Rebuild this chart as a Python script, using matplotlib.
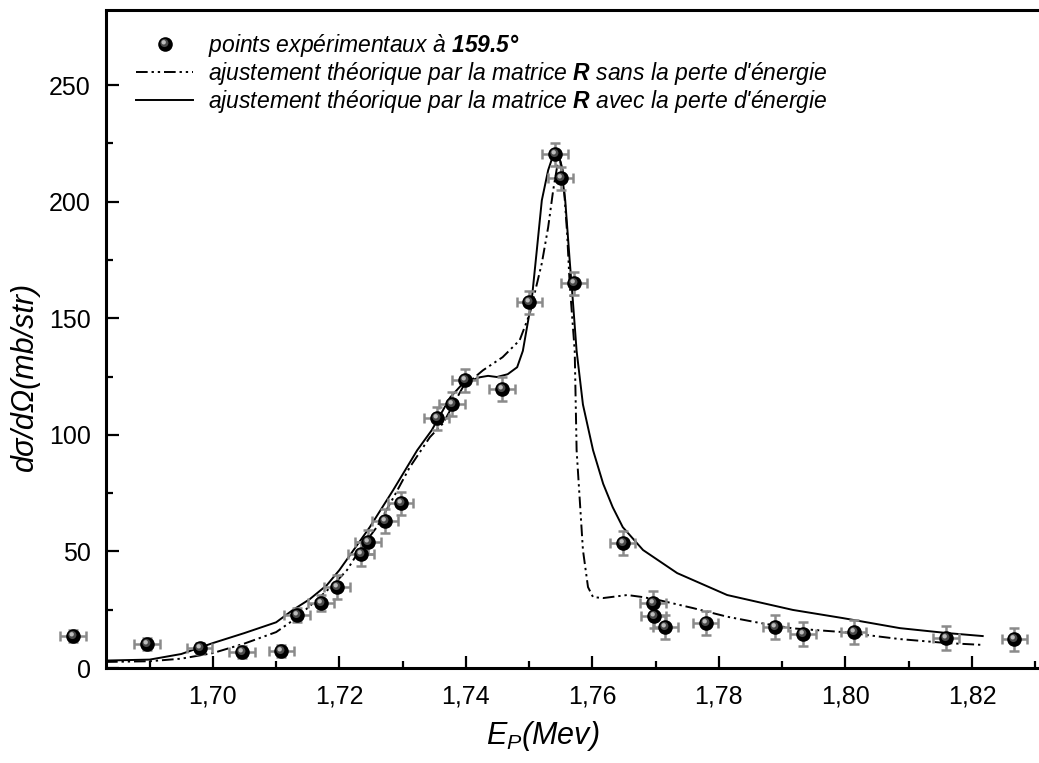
import numpy as np
import matplotlib
matplotlib.use("Agg")
import matplotlib.pyplot as plt
from matplotlib.path import Path
from matplotlib.lines import Line2D
from matplotlib.ticker import MultipleLocator, FixedLocator, FuncFormatter
from matplotlib.legend_handler import HandlerTuple

plt.rcParams['font.family'] = ['Liberation Sans', 'DejaVu Sans']
plt.rcParams['mathtext.fontset'] = 'custom'
plt.rcParams['mathtext.rm'] = 'Liberation Sans:italic'
plt.rcParams['mathtext.it'] = 'Liberation Sans:italic'
plt.rcParams['mathtext.bf'] = 'Liberation Sans:bold:italic'

# ---------------- data ----------------
x_exp = [1.6779, 1.6896, 1.6979, 1.7046, 1.7108, 1.7133, 1.7171, 1.7196, 1.7234,
         1.7245, 1.7272, 1.7297, 1.7354, 1.7378, 1.7398, 1.7457, 1.7500, 1.7541,
         1.7550, 1.7571, 1.7648, 1.7696, 1.7697, 1.7715, 1.7779, 1.7889, 1.7933,
         1.8013, 1.8159, 1.8267]
y_exp = [13.7, 10.3, 8.4, 6.9, 7.3, 22.7, 27.9, 34.7, 48.9,
         54.0, 63.0, 70.7, 107.1, 113.2, 123.4, 119.6, 156.9, 220.3,
         210.0, 165.0, 53.6, 27.9, 22.3, 17.6, 19.3, 17.6, 14.6,
         15.4, 12.8, 12.3]
x_err = [0.002] * len(x_exp)
y_err = [2.5, 2.5, 2.5, 2.5, 2.5, 3.0, 3.5, 5.0, 5.0,
         5.0, 5.0, 5.0, 5.0, 5.0, 5.0, 5.0, 5.0, 5.0,
         5.0, 5.0, 5.0, 5.0, 5.0, 5.0, 5.0, 5.0, 5.0,
         5.0, 5.0, 5.0]

# R-matrix fit with energy loss (solid)
x_avec = [1.6831, 1.6900, 1.6950, 1.7000, 1.7050, 1.7100, 1.7127, 1.7153, 1.7180,
          1.7200, 1.7248, 1.7285, 1.7323, 1.7346, 1.7375, 1.7395, 1.7422, 1.7435,
          1.7449, 1.7466, 1.7481, 1.7490, 1.7504, 1.7512, 1.7520, 1.7530, 1.7538,
          1.7542, 1.7549, 1.7557, 1.7564, 1.7569, 1.7575, 1.7585, 1.7601, 1.7617,
          1.7632, 1.7648, 1.7680, 1.7734, 1.7813, 1.7917, 1.7996, 1.8086, 1.8160,
          1.8217]
y_avec = [3.2, 3.6, 6.0, 10.7, 15.0, 19.6, 25.0, 29.5, 35.5,
          42.0, 60.4, 76.3, 93.4, 102.0, 116.0, 122.0, 124.7, 125.3,
          124.8, 126.0, 129.0, 136.0, 157.7, 179.0, 200.6, 213.5, 220.0,
          221.0, 217.7, 200.6, 175.0, 157.7, 136.0, 113.0, 93.4, 79.0,
          69.0, 60.4, 50.6, 40.7, 31.3, 24.9, 21.4, 17.1, 15.0,
          13.7]

# R-matrix fit without energy loss (dash-dot-dot)
x_sans = [1.6831, 1.6900, 1.6950, 1.7000, 1.7050, 1.7100, 1.7127, 1.7153, 1.7190,
          1.7212, 1.7232, 1.7259, 1.7285, 1.7311, 1.7343, 1.7364, 1.7395, 1.7427,
          1.7458, 1.7485, 1.7501, 1.7520, 1.7530, 1.7538, 1.7544, 1.7547, 1.7553,
          1.7560, 1.7564, 1.7572, 1.7575, 1.7580, 1.7585, 1.7593, 1.7601, 1.7617,
          1.7655, 1.7680, 1.7707, 1.7759, 1.7813, 1.7865, 1.7917, 1.7996, 1.8086,
          1.8160, 1.8217]
y_sans = [2.6, 2.9, 4.0, 6.4, 10.5, 15.4, 20.5, 26.5, 35.6,
          42.0, 50.6, 60.4, 72.9, 86.0, 99.0, 105.0, 120.4, 127.7,
          133.3, 140.6, 152.0, 173.6, 189.0, 205.0, 214.7, 220.0, 213.5,
          186.4, 165.0, 136.0, 93.4, 72.0, 50.6, 34.7, 30.4, 30.0,
          31.3, 30.4, 29.0, 25.7, 22.0, 19.3, 17.0, 15.4, 12.4,
          10.7, 9.9]

x_ticks = [1.70, 1.72, 1.74, 1.76, 1.78, 1.80, 1.82]
y_ticks = [0, 50, 100, 150, 200, 250]
y_minor = [25, 75, 125, 175, 225]

label_pts = r"points expérimentaux à $\mathbf{159.5°}$"
label_sans = r"ajustement théorique par la matrice $\mathbf{R}$ sans la perte d'énergie"
label_avec = r"ajustement théorique par la matrice $\mathbf{R}$ avec la perte d'énergie"

# ---------------- figure ----------------
fig = plt.figure(figsize=(10.39, 7.63), dpi=100)
ax = fig.add_axes([106 / 1039, 1 - 668 / 763, (1039 - 106) / 1039, (668 - 10.5) / 763])
ax.set_xlim(1.6831, 1.8306)
ax.set_ylim(0, 282)

lw = 1.4
dashdotdot = (0, (6, 2, 1.2, 2, 1.2, 2))
ax.plot(x_sans, y_sans, color='black', lw=lw, linestyle=dashdotdot, zorder=3)
ax.plot(x_avec, y_avec, color='black', lw=lw, linestyle='-', zorder=3)

eb = ax.errorbar(x_exp, y_exp, xerr=x_err, yerr=y_err, fmt='none', ecolor='#8a8a8a',
                 elinewidth=1.8, capsize=3.5, capthick=1.8, zorder=4)
for art in list(eb.lines[1]) + list(eb.lines[2]):
    art.set_clip_on(False)


def offset_circle(cx, cy, r):
    c = Path.unit_circle()
    verts = np.vstack([[[1.0, 0.0]], c.vertices * r + np.array([cx, cy])])
    codes = np.concatenate([[Path.MOVETO], c.codes])
    return Path(verts, codes)


ms = 10.5
h0, = ax.plot(x_exp, y_exp, 'o', color='black', ms=ms, mec='black', mew=0, zorder=5, clip_on=False)
h1, = ax.plot(x_exp, y_exp, linestyle='none', marker=offset_circle(-0.15, 0.2, 0.55),
              color='#4a4a4a', ms=ms, mew=0, zorder=6, clip_on=False)
h2, = ax.plot(x_exp, y_exp, linestyle='none', marker=offset_circle(-0.25, 0.3, 0.3),
              color='#bdbdbd', ms=ms, mew=0, zorder=7, clip_on=False)

l_sans = Line2D([], [], color='black', lw=lw, linestyle=dashdotdot)
l_avec = Line2D([], [], color='black', lw=lw, linestyle='-')

leg = ax.legend([(h0, h1, h2), l_sans, l_avec], [label_pts, label_sans, label_avec],
                handler_map={tuple: HandlerTuple(ndivide=1)},
                loc='upper left', bbox_to_anchor=(136 / 1039, 1 - 32 / 763),
                bbox_transform=fig.transFigure, frameon=False, numpoints=1,
                prop={'size': 16.5, 'style': 'italic'}, handlelength=2.5,
                handletextpad=0.65, labelspacing=0.05, borderpad=0, borderaxespad=0)

# spines
for s in ['left', 'bottom', 'top']:
    ax.spines[s].set_linewidth(2.2)
ax.spines['right'].set_visible(False)

ax.xaxis.set_major_locator(FixedLocator(x_ticks))
ax.xaxis.set_minor_locator(MultipleLocator(0.01))
ax.yaxis.set_major_locator(FixedLocator(y_ticks))
ax.yaxis.set_minor_locator(FixedLocator(y_minor))
ax.xaxis.set_major_formatter(FuncFormatter(lambda v, p: f"{v:.2f}".replace('.', ',')))
ax.yaxis.set_major_formatter(FuncFormatter(lambda v, p: f"{v:.0f}"))

ax.tick_params(which='both', direction='in', top=False, right=False, width=1.6)
ax.tick_params(axis='x', which='major', length=9, labelsize=18, pad=12)
ax.tick_params(axis='y', which='major', length=9, labelsize=18, pad=11)
ax.tick_params(which='minor', length=5)

ax.set_xlabel(r"$E_P$(Mev)", fontsize=22, fontstyle='italic', va='center', ha='center')
ax.xaxis.set_label_coords(0.468, -0.103)
ax.set_ylabel("dσ/dΩ(mb/str)", fontsize=22, fontstyle='italic', va='center', ha='center')
ax.yaxis.set_label_coords(-0.087, 0.444)

fig.savefig("out.png", dpi=100)
